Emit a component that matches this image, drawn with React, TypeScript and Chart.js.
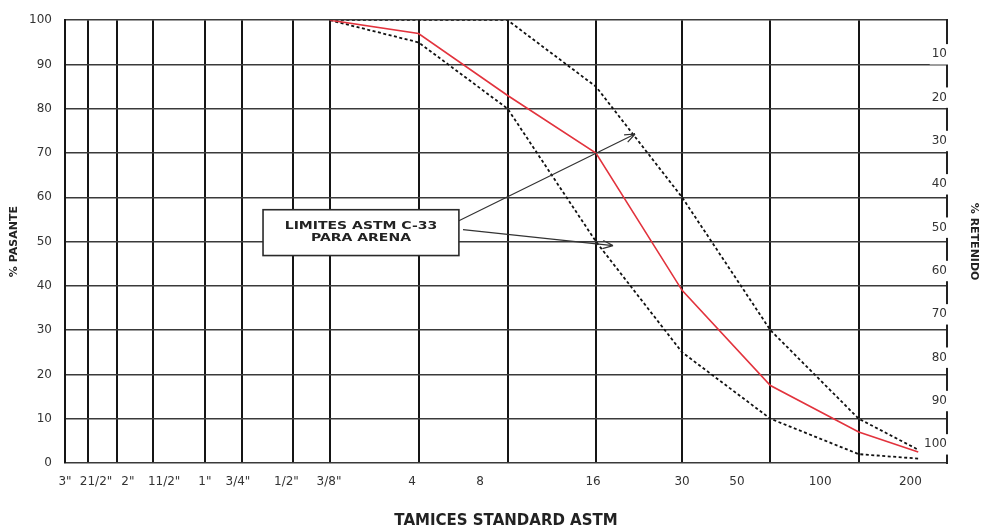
import { useEffect, useRef } from "react";
import { Chart, registerables } from "chart.js";

Chart.register(...registerables);

// ---- data -------------------------------------------------------------
// sieve names printed under the chart
const tamices = ['3"', '21/2"', '2"', '11/2"', '1"', '3/4"', '1/2"', '3/8"', "4", "8", "16", "30", "50", "100", "200"];
// sieve openings (mm) -> vertical grid lines
const aberturaMm = [76.2, 63.5, 50.8, 38.1, 25.4, 19.05, 12.7, 9.525, 4.75, 2.36, 1.18, 0.6, 0.3, 0.15, 0.075];
// where each sieve name is printed on the sheet (mm on the sieve axis)
const etiquetaMm = [76.2, 59.7, 46.5, 35.0, 25.4, 19.6, 13.4, 9.59, 5.0, 2.93, 1.207, 0.6, 0.39, 0.203, 0.1];

// gradation curves (x = sieve opening in mm as read on the sheet, y = % passing)
const curvaMm = [9.525, 4.75, 2.36, 1.18, 0.6, 0.3, 0.15, 0.094];
const muestra = [100, 97, 83, 70, 39, 17.5, 7, 2.5];
const limiteSuperior = [100, 100, 100, 85, 60, 30, 10, 3];
const limiteInferior = [100, 95, 80, 50, 25, 10, 2, 1];

const pasanteTicks = [0, 10, 20, 30, 40, 50, 60, 70, 80, 90, 100];
const retenidoTicks = [10, 20, 30, 40, 50, 60, 70, 80, 90, 100];

const notaTexto = ["LIMITES ASTM C-33", "PARA ARENA"];
// ------------------------------------------------------------------------

const FAM = "'DejaVu Sans', 'Liberation Sans', sans-serif";

// annotation geometry in data units (mm, % pasante)
const notaCaja = { mmIzq: 16.1, mmDer: 3.46, sup: 57.2, inf: 46.85 };
const flechas = [
  { desde: [3.46, 54.7], hasta: [0.868, 74.3] },
  { desde: [3.35, 52.7], hasta: [1.032, 49.1] },
];

const notaPlugin = {
  id: "nota",
  afterDraw(chart: any) {
    const { ctx } = chart;
    const x = chart.scales.x;
    const y = chart.scales.y;
    ctx.save();
    // arrows
    ctx.strokeStyle = "#333";
    ctx.lineWidth = 1.2;
    for (const f of flechas) {
      const x0 = x.getPixelForValue(f.desde[0]);
      const y0 = y.getPixelForValue(f.desde[1]);
      const x1 = x.getPixelForValue(f.hasta[0]);
      const y1 = y.getPixelForValue(f.hasta[1]);
      ctx.beginPath();
      ctx.moveTo(x0, y0);
      ctx.lineTo(x1, y1);
      const ang = Math.atan2(y1 - y0, x1 - x0);
      const L = 11;
      const a = 0.38;
      ctx.moveTo(x1, y1);
      ctx.lineTo(x1 - L * Math.cos(ang - a), y1 - L * Math.sin(ang - a));
      ctx.moveTo(x1, y1);
      ctx.lineTo(x1 - L * Math.cos(ang + a), y1 - L * Math.sin(ang + a));
      ctx.stroke();
    }
    // box
    const l = x.getPixelForValue(notaCaja.mmIzq);
    const r = x.getPixelForValue(notaCaja.mmDer);
    const t = y.getPixelForValue(notaCaja.sup);
    const b = y.getPixelForValue(notaCaja.inf);
    ctx.fillStyle = "#fff";
    ctx.fillRect(l, t, r - l, b - t);
    ctx.strokeStyle = "#2a2a2a";
    ctx.lineWidth = 1.6;
    ctx.strokeRect(l, t, r - l, b - t);
    ctx.fillStyle = "#222";
    ctx.font = `bold 10px ${FAM}`;
    ctx.textAlign = "center";
    ctx.textBaseline = "middle";
    const cx = (l + r) / 2;
    const cy = (t + b) / 2;
    notaTexto.forEach((s, i) => {
      ctx.save();
      ctx.translate(cx, cy + (i - 0.5) * 12.5);
      ctx.scale(1.4, 1);
      ctx.fillText(s, 0, 0);
      ctx.restore();
    });
    ctx.restore();
  },
};

export default function App() {
  const ref = useRef<HTMLCanvasElement | null>(null);

  useEffect(() => {
    if (!ref.current) return;
    const pts = (ys: number[]) => ys.map((v, i) => ({ x: curvaMm[i], y: v }));
    const tickFont = { family: FAM, size: 12 };
    const chart = new Chart(ref.current, {
      type: "line",
      data: {
        datasets: [
          {
            label: "Muestra",
            data: pts(muestra),
            borderColor: "#e2333d",
            borderWidth: 1.6,
            pointRadius: 0,
            tension: 0,
          },
          {
            label: "Límite superior",
            data: pts(limiteSuperior),
            borderColor: "#111",
            borderWidth: 1.8,
            borderDash: [3, 2.5],
            pointRadius: 0,
            tension: 0,
          },
          {
            label: "Límite inferior",
            data: pts(limiteInferior),
            borderColor: "#111",
            borderWidth: 1.8,
            borderDash: [3, 2.5],
            pointRadius: 0,
            tension: 0,
          },
        ],
      },
      options: {
        animation: false,
        responsive: false,
        layout: { padding: { top: 19, left: 0, right: 0, bottom: 0 } },
        plugins: { legend: { display: false }, tooltip: { enabled: false } },
        scales: {
          x: {
            type: "logarithmic",
            position: "bottom",
            reverse: true,
            min: 0.075,
            max: 76.2,
            afterBuildTicks: (s: any) => {
              s.ticks = aberturaMm.map((v) => ({ value: v }));
            },
            afterFit: (s: any) => {
              s.height = 0;
            },
            grid: { color: "#151515", lineWidth: 2, drawTicks: false },
            border: { display: false },
            ticks: { display: false },
          },
          xl: {
            type: "logarithmic",
            position: "bottom",
            reverse: true,
            min: 0.075,
            max: 76.2,
            afterBuildTicks: (s: any) => {
              s.ticks = etiquetaMm.map((v) => ({ value: v }));
            },
            afterFit: (s: any) => {
              s.height = 68;
            },
            grid: { display: false, drawTicks: false },
            border: { display: false },
            ticks: {
              autoSkip: false,
              maxRotation: 0,
              minRotation: 0,
              padding: 12,
              color: "#333",
              font: tickFont,
              callback: (_v: any, i: number) => tamices[i],
            },
            title: {
              display: true,
              text: "TAMICES STANDARD ASTM",
              color: "#222",
              font: { family: FAM, size: 15, weight: "bold" },
              padding: { top: 0, bottom: 1 },
            },
          },
          y: {
            type: "linear",
            position: "left",
            min: 0,
            max: 100,
            afterBuildTicks: (s: any) => {
              s.ticks = pasanteTicks.map((v) => ({ value: v }));
            },
            afterFit: (s: any) => {
              s.width = 65;
            },
            grid: { color: "#3a3a3a", lineWidth: 1.5, drawTicks: false },
            border: { display: true, color: "#151515", width: 2 },
            ticks: { padding: 13, color: "#333", font: tickFont },
            title: {
              display: true,
              text: "% PASANTE",
              color: "#222",
              font: { family: FAM, size: 11, weight: "bold" },
              padding: { top: 8, bottom: 0 },
            },
          },
          y2: {
            type: "linear",
            position: "right",
            reverse: true,
            min: 2.13,
            max: 104.3,
            afterBuildTicks: (s: any) => {
              s.ticks = retenidoTicks.map((v) => ({ value: v }));
            },
            afterFit: (s: any) => {
              s.width = 34;
            },
            grid: { display: false, drawTicks: false },
            border: { display: true, color: "#222", width: 2 },
            ticks: {
              mirror: true,
              padding: 0,
              color: "#333",
              font: tickFont,
              showLabelBackdrop: true,
              backdropColor: "#fff",
              backdropPadding: { x: 2, y: 3 },
            },
            title: {
              display: true,
              text: "% RETENIDO",
              color: "#222",
              font: { family: FAM, size: 11, weight: "bold" },
              padding: { top: 1, bottom: 0 },
            },
          },
        },
      } as any,
      plugins: [notaPlugin],
    });
    return () => chart.destroy();
  }, []);

  return (
    <div style={{ position: "absolute", left: 0, top: 0, width: 981, height: 531, background: "#fff" }}>
      <canvas ref={ref} width={981} height={531} style={{ display: "block" }} />
    </div>
  );
}
